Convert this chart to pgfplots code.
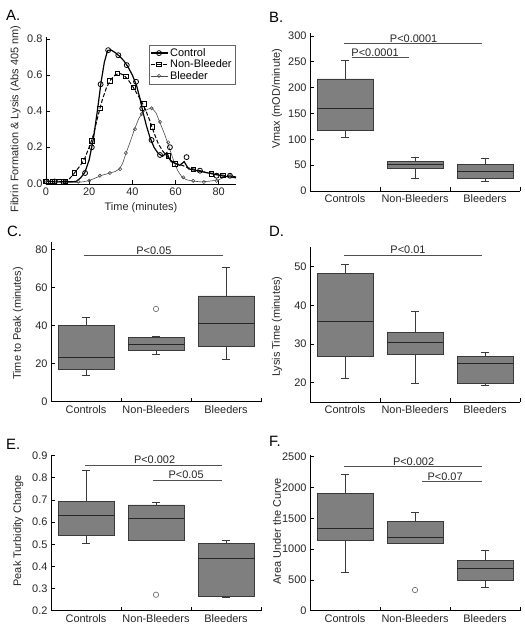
\documentclass[border=0pt]{standalone}
\usepackage{fontspec}
\setmainfont{Liberation Sans}
\usepackage{pgfplots}
\pgfplotsset{compat=1.18}
\definecolor{boxfill}{HTML}{7F7F7F}
\definecolor{boxedge}{HTML}{3A3A3A}
\definecolor{sigline}{HTML}{505050}
\newcommand{\tf}{\fontsize{11}{13}\selectfont}
\pgfplotsset{
  base/.style={
    scale only axis, axis lines=left, axis line style={-, line width=0.8bp, black},
    tick align=inside, major tick length=4bp, tick style={black, line width=0.7bp},
    ticklabel style={font=\tf, text=black!85},
    label style={font=\tf, text=black!85},
    /pgf/number format/assume math mode=true,
    /pgf/number format/1000 sep={},
    clip=false,
  },
  boxax/.style={base, width=210bp, xmin=0.5, xmax=3.5,
    xtick={1,2,3}, xticklabels={Controls,Non-Bleeders,Bleeders},
    major x tick style={draw=none},
    ylabel style={at={(axis description cs:-0.157,0.5)}, anchor=center},
  },
  whisk/.style={draw=boxedge, line width=0.7bp},
  outl/.style={only marks, mark=o, mark size=2.7bp, draw=black!55, line width=0.7bp},
}
% box: position, lower whisker, lower quartile, median, upper quartile, upper whisker
\newcommand{\bxp}[6]{%
  \pgfmathsetmacro\bxL{#1-0.4}\pgfmathsetmacro\bxR{#1+0.4}%
  \pgfmathsetmacro\cpL{#1-0.06}\pgfmathsetmacro\cpR{#1+0.06}%
  \addplot[whisk] coordinates {(#1,#2)(#1,#3)};
  \addplot[whisk] coordinates {(#1,#5)(#1,#6)};
  \addplot[whisk] coordinates {(\cpL,#2)(\cpR,#2)};
  \addplot[whisk] coordinates {(\cpL,#6)(\cpR,#6)};
  \addplot[fill=boxfill, draw=boxedge, line width=0.7bp] coordinates {(\bxL,#3)(\bxR,#3)(\bxR,#5)(\bxL,#5)(\bxL,#3)};
  \addplot[draw=black!85, line width=1bp] coordinates {(\bxL,#4)(\bxR,#4)};
}
\newcommand{\bdiv}[1]{% category boundary ticks
  \draw[black, line width=0.7bp] (axis cs:1.5,#1) -- ([yshift=4bp]axis cs:1.5,#1);
  \draw[black, line width=0.7bp] (axis cs:2.5,#1) -- ([yshift=4bp]axis cs:2.5,#1);
  \draw[black, line width=0.7bp] (axis cs:3.5,#1) -- ([yshift=4bp]axis cs:3.5,#1);}
\newcommand{\sig}[3]{%
  \draw[sigline, line width=0.8bp] (axis cs:#2,#1) -- (axis cs:#3,#1);}
\newcommand{\sigt}[3]{%
  \node[anchor=south, inner sep=1bp, font=\tf, text=black!85] at (axis cs:#2,#1) {#3};}
\begin{document}
\begin{tikzpicture}
\path[use as bounding box] (0bp,0bp) rectangle (525bp,630bp);
% panel letters
\node[anchor=base west, inner sep=0, font=\fontsize{15}{18}\selectfont] at (6bp,609.3bp) {A.};
\node[anchor=base west, inner sep=0, font=\fontsize{15}{18}\selectfont] at (269bp,607.3bp) {B.};
\node[anchor=base west, inner sep=0, font=\fontsize{15}{18}\selectfont] at (7bp,393.3bp) {C.};
\node[anchor=base west, inner sep=0, font=\fontsize{15}{18}\selectfont] at (269bp,393.3bp) {D.};
\node[anchor=base west, inner sep=0, font=\fontsize{15}{18}\selectfont] at (6bp,180bp) {E.};
\node[anchor=base west, inner sep=0, font=\fontsize{15}{18}\selectfont] at (269bp,183.3bp) {F.};

% ---------------- A
\begin{axis}[base, at={(46bp,445.7bp)}, anchor=south west,
  width=190bp, height=147.1bp, xmin=0, xmax=88, ymin=-0.0055, ymax=0.81,
  xtick={0,20,40,60,80}, ytick={0,0.2,0.4,0.6,0.8},
  yticklabel style={/pgf/number format/.cd, fixed, fixed zerofill, precision=1},
  xlabel={Time (minutes)},
  ylabel={Fibrin Formation \& Lysis (Abs 405 nm)},
  ylabel style={at={(axis description cs:-0.16,0.444)}, anchor=center, font=\fontsize{11}{13}\selectfont},
  legend style={at={(rel axis cs:0.995,0.947)}, anchor=north east, draw=black!60,
    font=\fontsize{11}{11}\selectfont, inner sep=1.2bp, row sep=-2bp, legend cell align=left},
]
\addlegendimage{black, line width=1.2bp, mark=o, mark size=2.5bp, mark options={solid, line width=0.8bp}}
\addlegendentry{Control}
\addlegendimage{black, line width=1bp, dash pattern=on 4bp off 2bp, mark=square, mark size=2.2bp, mark options={solid, line width=0.7bp}}
\addlegendentry{Non-Bleeder}
\addlegendimage{black!70, line width=0.6bp, mark=o, mark size=1.6bp, mark options={solid, line width=0.6bp}}
\addlegendentry{Bleeder}
% Bleeder
\addplot[black!70, line width=0.6bp, forget plot] coordinates {
(0,0.015)(3,0.01)(6,0.008)(10,0.005)(14,0.005)(17,0.008)(20,0.015)(23,0.03)(26,0.045)(29,0.055)(32,0.065)(34,0.08)(35.5,0.11)(37,0.165)(39,0.23)(41,0.3)(43,0.36)(45,0.395)(47,0.41)(49,0.418)(51,0.39)(53,0.33)(55,0.27)(57,0.2)(59,0.13)(61,0.07)(63,0.035)(65,0.02)(68,0.012)(72,0.008)(76,0.012)(80,0.02)(84,0.04)(88,0.035)};
\addplot[only marks, mark=o, mark size=1.6bp, black!70, line width=0.6bp, forget plot] coordinates {
(0,0.015)(5,0.01)(15,0.009)(20,0.015)(25,0.042)(29.6,0.057)(34.3,0.079)(37,0.168)(41.2,0.3)(44.3,0.384)(48.9,0.416)(52.8,0.341)(56.6,0.227)(60.5,0.098)(63.6,0.033)(68.2,0.014)(73.1,0.007)(79,0.014)(85.2,0.045)};
% Non-Bleeder
\addplot[black, line width=1bp, dash pattern=on 4bp off 2bp, forget plot] coordinates {
(0,0.01)(2,0.01)(4,0.008)(6,0.008)(8,0.01)(10,0.015)(12,0.04)(14,0.07)(16,0.1)(18,0.14)(20,0.2)(22,0.27)(24,0.37)(26,0.46)(28,0.53)(30,0.575)(32,0.6)(34,0.61)(36,0.6)(38,0.575)(40,0.54)(42,0.5)(44,0.46)(46,0.41)(48,0.35)(50,0.28)(52,0.22)(54,0.18)(56,0.15)(58,0.125)(60,0.11)(63,0.1)(66,0.085)(70,0.075)(74,0.06)(78,0.055)(82,0.045)(86,0.04)(88,0.035)};
\addplot[only marks, mark=square, mark size=2.2bp, black, line width=0.7bp, forget plot] coordinates {
(0,0.01)(3,0.01)(6,0.008)(9,0.01)(13,0.057)(17.3,0.125)(21.2,0.236)(25,0.416)(29.6,0.569)(33,0.611)(37,0.593)(40.4,0.532)(45.4,0.44)(49.2,0.314)(56.6,0.153)(59.7,0.107)(68.2,0.079)(76.7,0.052)(82,0.045)};
% Control
\addplot[black, line width=1.2bp, forget plot] coordinates {
(0,0.01)(5,0.01)(10,0.008)(14,0.01)(16,0.03)(18,0.06)(20,0.13)(22,0.25)(24,0.42)(25.5,0.56)(27,0.67)(28.5,0.735)(30,0.74)(32,0.725)(34,0.705)(36,0.68)(38,0.645)(40,0.6)(42,0.54)(43.5,0.47)(45,0.39)(46.5,0.32)(48,0.26)(50,0.2)(52,0.165)(54,0.15)(56,0.17)(57,0.14)(58,0.12)(60,0.11)(62,0.1)(64,0.12)(65,0.1)(66,0.08)(68,0.075)(70,0.07)(74,0.06)(78,0.05)(82,0.04)(86,0.035)(88,0.03)};
\addplot[only marks, mark=o, mark size=2.5bp, black, line width=0.8bp, forget plot] coordinates {
(0.3,0.01)(4,0.01)(8,0.008)(18.1,0.057)(21.2,0.2)(25.3,0.549)(28.8,0.738)(33.5,0.71)(37.4,0.655)(41.7,0.563)(44.6,0.415)(48.9,0.24)(52.8,0.157)(57.4,0.2)(65.1,0.145)(71.3,0.07)(79,0.042)(85.2,0.042)};
\end{axis}

% ---------------- B
\begin{axis}[boxax, at={(310bp,439bp)}, anchor=south west, height=157.6bp,
  ymin=0, ymax=305, ytick={0,50,100,150,200,250,300},
  ylabel={Vmax (mOD/minute)},
  ylabel style={at={(axis description cs:-0.157,0.584)}}]
\bxp{1}{103}{117}{160}{217}{252}
\bxp{2}{24.5}{43}{52}{58}{65}
\bxp{3}{18}{24.5}{37.5}{52}{63}
\bdiv{0}
\sig{285}{0.99}{2.96}\sigt{285}{1.98}{P<0.0001}
\sig{258}{1.1}{1.91}\sigt{258}{1.43}{P<0.0001}
\end{axis}

% ---------------- C
\begin{axis}[boxax, at={(51bp,228.3bp)}, anchor=south west, height=160bp,
  ymin=0, ymax=84, ytick={0,20,40,60,80},
  ylabel={Time to Peak (minutes)},
  ylabel style={at={(axis description cs:-0.157,0.49)}}]
\bxp{1}{14}{17}{23.3}{39.9}{44.3}
\bxp{2}{25}{27.1}{29.8}{33.8}{34.5}
\bxp{3}{22.2}{28.9}{40.8}{55.5}{70.7}
\addplot[outl] coordinates {(2,48.7)};
\bdiv{0}
\sig{76.7}{0.97}{2.95}\sigt{76.7}{1.97}{P<0.05}
\end{axis}

% ---------------- D
\begin{axis}[boxax, at={(310bp,228bp)}, anchor=south west, height=155.4bp,
  ymin=15, ymax=55.2, ytick={20,30,40,50},
  ylabel={Lysis Time (minutes)},
  ylabel style={at={(axis description cs:-0.157,0.484)}}]
\bxp{1}{21.1}{26.7}{35.9}{48.3}{50.5}
\bxp{2}{19.7}{27.2}{30.4}{33}{38.5}
\bxp{3}{19.3}{19.8}{25}{26.7}{27.8}
\bdiv{15}
\sig{53}{0.98}{2.96}\sigt{53}{1.9}{P<0.01}
\end{axis}

% ---------------- E
\begin{axis}[boxax, at={(51bp,19.3bp)}, anchor=south west, height=156.1bp,
  ymin=0.2, ymax=0.905, ytick={0.2,0.3,0.4,0.5,0.6,0.7,0.8,0.9},
  yticklabel style={/pgf/number format/.cd, fixed, fixed zerofill, precision=1},
  ylabel={Peak Turbidity Change},
  ylabel style={at={(axis description cs:-0.156,0.511)}}]
\bxp{1}{0.504}{0.539}{0.632}{0.695}{0.835}
\bxp{2}{0.516}{0.519}{0.617}{0.678}{0.69}
\bxp{3}{0.26}{0.263}{0.437}{0.504}{0.516}
\addplot[outl] coordinates {(2,0.272)};
\bdiv{0.2}
\sig{0.857}{0.99}{2.94}\sigt{0.857}{1.98}{P<0.002}
\sig{0.79}{1.95}{2.94}\sigt{0.79}{2.43}{P<0.05}
\end{axis}

% ---------------- F
\begin{axis}[boxax, at={(310bp,19.3bp)}, anchor=south west, height=155.2bp,
  ymin=0, ymax=2520, ytick={0,500,1000,1500,2000,2500},
  ylabel={Area Under the Curve},
  ylabel style={at={(axis description cs:-0.157,0.511)}}]
\bxp{1}{623}{1148}{1338}{1906}{2219}
\bxp{2}{1090}{1100}{1191}{1456}{1591}
\bxp{3}{380}{498}{688}{812}{975}
\addplot[outl] coordinates {(2,336)};
\bdiv{0}
\sig{2338}{0.99}{2.96}\sigt{2338}{1.98}{P<0.002}
\sig{2094}{2.1}{2.96}\sigt{2094}{2.43}{P<0.07}
\end{axis}
\end{tikzpicture}
\end{document}
